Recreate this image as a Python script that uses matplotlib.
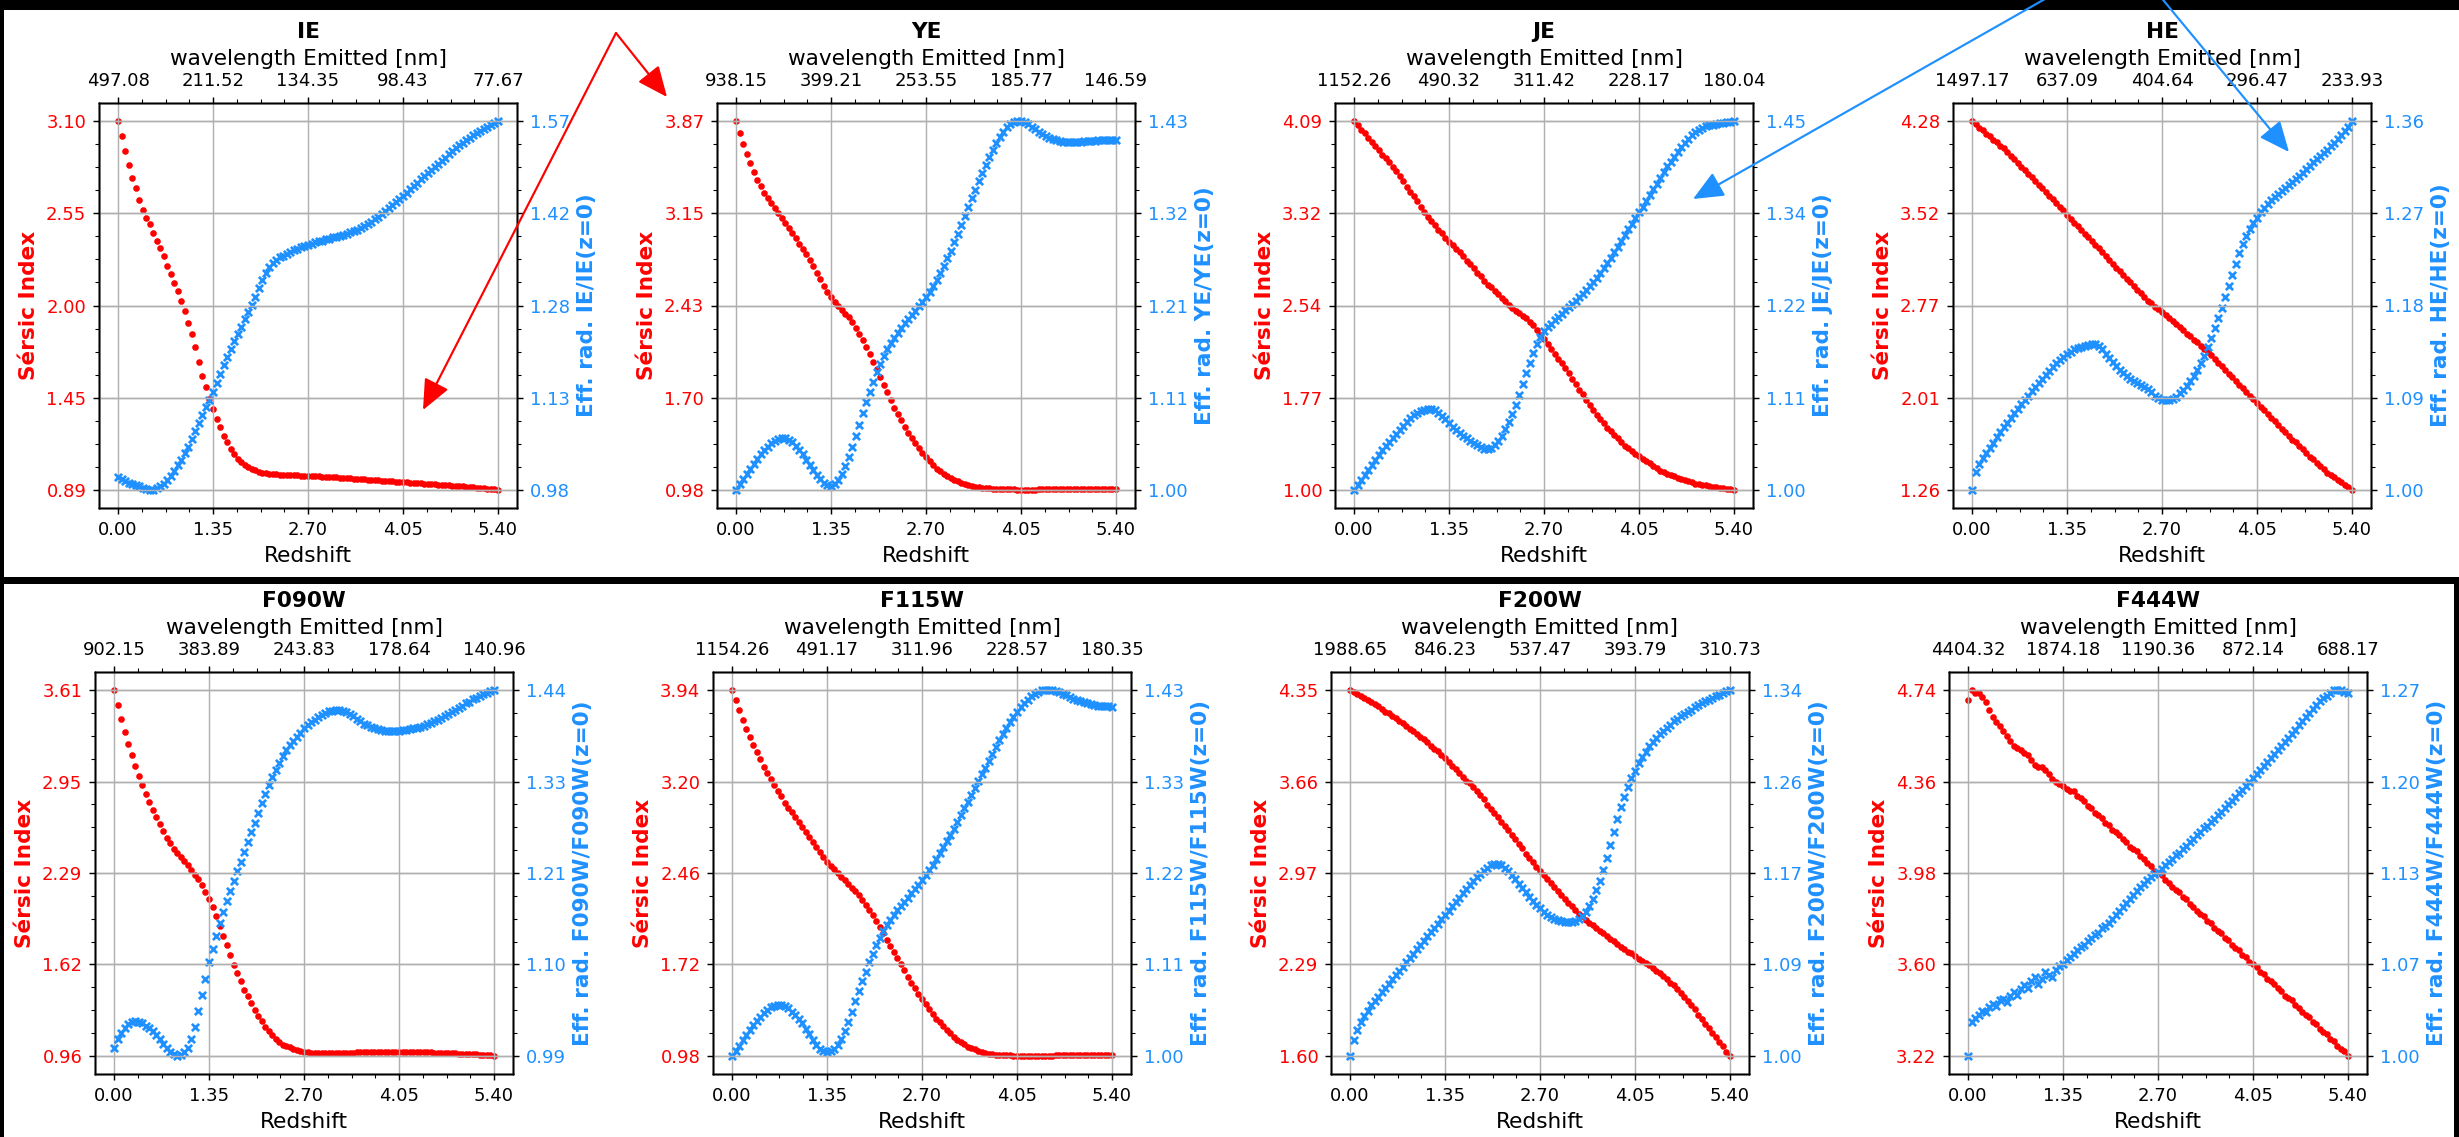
import matplotlib
matplotlib.use('Agg')
import matplotlib.pyplot as plt
import numpy as np
from matplotlib.ticker import AutoMinorLocator, FormatStrFormatter
from matplotlib.patches import Rectangle, FancyArrowPatch

W, H, DPI = 2459, 1137, 130

bands = ['IE', 'YE', 'JE', 'HE', 'F090W', 'F115W', 'F200W', 'F444W']
z = np.linspace(0, 5.4, 109)
zticks = [0.0, 1.35, 2.70, 4.05, 5.40]

# Sersic index vs redshift (step 0.05)
ie_n = [3.10, 3.01, 2.92, 2.84, 2.76, 2.70, 2.63, 2.57, 2.52, 2.48,
        2.43, 2.38, 2.34, 2.29, 2.23, 2.18, 2.13, 2.08, 2.02, 1.96,
        1.89, 1.82, 1.74, 1.65, 1.57, 1.50, 1.43, 1.37, 1.31, 1.26,
        1.21, 1.17, 1.13, 1.10, 1.07, 1.05, 1.03, 1.02, 1.01, 1.00,
        0.990, 0.987, 0.984, 0.981, 0.979, 0.977, 0.975, 0.974, 0.973, 0.972,
        0.971, 0.970, 0.969, 0.968, 0.967, 0.966, 0.965, 0.964, 0.963, 0.962,
        0.961, 0.960, 0.958, 0.957, 0.955, 0.954, 0.952, 0.951, 0.949, 0.948,
        0.946, 0.945, 0.943, 0.942, 0.940, 0.939, 0.937, 0.936, 0.934, 0.933,
        0.931, 0.930, 0.928, 0.927, 0.925, 0.924, 0.922, 0.921, 0.919, 0.918,
        0.916, 0.915, 0.913, 0.912, 0.910, 0.909, 0.907, 0.906, 0.904, 0.903,
        0.901, 0.899, 0.897, 0.895, 0.893, 0.891, 0.889, 0.887, 0.885]
ye_n = [3.87, 3.78, 3.69, 3.61, 3.54, 3.47, 3.41, 3.36, 3.31, 3.27,
        3.23, 3.19, 3.15, 3.11, 3.07, 3.03, 2.99, 2.95, 2.91, 2.87,
        2.83, 2.78, 2.73, 2.68, 2.63, 2.58, 2.53, 2.49, 2.45, 2.42,
        2.39, 2.36, 2.33, 2.29, 2.25, 2.20, 2.15, 2.10, 2.04, 1.98,
        1.92, 1.86, 1.80, 1.74, 1.68, 1.62, 1.57, 1.52, 1.47, 1.42,
        1.38, 1.34, 1.30, 1.26, 1.23, 1.20, 1.17, 1.14, 1.12, 1.10,
        1.08, 1.065, 1.05, 1.04, 1.03, 1.02, 1.012, 1.005, 1.00, 0.995,
        0.991, 0.988, 0.985, 0.983, 0.981, 0.980, 0.979, 0.978, 0.977, 0.977,
        0.976, 0.976, 0.976, 0.976, 0.976, 0.976, 0.977, 0.977, 0.977, 0.978,
        0.978, 0.978, 0.979, 0.979, 0.980, 0.980, 0.980, 0.981, 0.981, 0.981,
        0.982, 0.982, 0.982, 0.983, 0.983, 0.983, 0.983, 0.984, 0.984]
je_n = [4.09, 4.06, 4.02, 3.99, 3.95, 3.92, 3.88, 3.85, 3.81, 3.78,
        3.75, 3.71, 3.67, 3.63, 3.59, 3.54, 3.50, 3.46, 3.42, 3.37,
        3.33, 3.29, 3.25, 3.22, 3.18, 3.15, 3.11, 3.08, 3.05, 3.02,
        2.99, 2.96, 2.92, 2.89, 2.86, 2.82, 2.79, 2.75, 2.72, 2.70,
        2.67, 2.64, 2.61, 2.58, 2.55, 2.52, 2.50, 2.48, 2.46, 2.44,
        2.41, 2.38, 2.34, 2.30, 2.26, 2.22, 2.18, 2.14, 2.10, 2.06,
        2.02, 1.98, 1.93, 1.89, 1.84, 1.80, 1.75, 1.71, 1.67, 1.63,
        1.59, 1.56, 1.52, 1.49, 1.46, 1.43, 1.40, 1.37, 1.35, 1.32,
        1.30, 1.28, 1.26, 1.24, 1.22, 1.20, 1.18, 1.16, 1.15, 1.13,
        1.12, 1.11, 1.10, 1.09, 1.08, 1.07, 1.06, 1.05, 1.045, 1.04,
        1.035, 1.03, 1.025, 1.02, 1.015, 1.01, 1.007, 1.004, 1.00]
he_n = [4.28, 4.26, 4.23, 4.21, 4.18, 4.16, 4.13, 4.11, 4.08, 4.06,
        4.03, 4.00, 3.97, 3.94, 3.91, 3.88, 3.85, 3.82, 3.79, 3.76,
        3.73, 3.70, 3.67, 3.64, 3.61, 3.58, 3.55, 3.51, 3.48, 3.45,
        3.42, 3.39, 3.36, 3.33, 3.30, 3.27, 3.24, 3.21, 3.18, 3.14,
        3.11, 3.08, 3.05, 3.02, 2.99, 2.96, 2.93, 2.90, 2.87, 2.84,
        2.81, 2.79, 2.76, 2.74, 2.72, 2.69, 2.67, 2.64, 2.62, 2.59,
        2.57, 2.54, 2.52, 2.49, 2.47, 2.44, 2.41, 2.39, 2.36, 2.33,
        2.30, 2.27, 2.24, 2.21, 2.18, 2.15, 2.12, 2.09, 2.06, 2.03,
        2.00, 1.97, 1.94, 1.91, 1.88, 1.85, 1.82, 1.79, 1.76, 1.73,
        1.70, 1.67, 1.65, 1.62, 1.59, 1.56, 1.53, 1.51, 1.48, 1.45,
        1.43, 1.40, 1.38, 1.36, 1.34, 1.32, 1.30, 1.28, 1.26]
f090_n = [3.61, 3.50, 3.40, 3.31, 3.22, 3.14, 3.06, 2.99, 2.92, 2.86,
          2.80, 2.74, 2.69, 2.64, 2.59, 2.54, 2.50, 2.46, 2.43, 2.40,
          2.37, 2.34, 2.31, 2.27, 2.24, 2.20, 2.15, 2.10, 2.04, 1.97,
          1.90, 1.83, 1.76, 1.69, 1.62, 1.56, 1.50, 1.44, 1.39, 1.34,
          1.29, 1.25, 1.21, 1.17, 1.14, 1.11, 1.08, 1.06, 1.04, 1.03,
          1.02, 1.01, 1.00, 0.995, 0.990, 0.986, 0.983, 0.981, 0.980, 0.979,
          0.979, 0.979, 0.980, 0.980, 0.981, 0.981, 0.982, 0.983, 0.983, 0.984,
          0.984, 0.985, 0.985, 0.986, 0.986, 0.987, 0.987, 0.987, 0.988, 0.988,
          0.988, 0.988, 0.988, 0.988, 0.987, 0.987, 0.987, 0.986, 0.986, 0.985,
          0.984, 0.983, 0.982, 0.981, 0.980, 0.979, 0.978, 0.977, 0.976, 0.975,
          0.974, 0.972, 0.971, 0.969, 0.968, 0.966, 0.964, 0.962, 0.960]
f115_n = [3.94, 3.86, 3.78, 3.70, 3.63, 3.56, 3.50, 3.44, 3.38, 3.32,
          3.27, 3.22, 3.17, 3.12, 3.08, 3.03, 2.99, 2.95, 2.91, 2.87,
          2.83, 2.79, 2.75, 2.71, 2.67, 2.63, 2.59, 2.55, 2.52, 2.49,
          2.46, 2.43, 2.40, 2.37, 2.34, 2.31, 2.28, 2.24, 2.20, 2.16,
          2.12, 2.07, 2.02, 1.97, 1.92, 1.87, 1.82, 1.77, 1.72, 1.67,
          1.62, 1.57, 1.53, 1.48, 1.44, 1.40, 1.36, 1.32, 1.28, 1.25,
          1.22, 1.19, 1.16, 1.13, 1.11, 1.09, 1.07, 1.05, 1.04, 1.03,
          1.02, 1.01, 1.00, 0.995, 0.991, 0.988, 0.985, 0.983, 0.982, 0.981,
          0.980, 0.980, 0.979, 0.979, 0.979, 0.979, 0.979, 0.979, 0.980, 0.980,
          0.980, 0.980, 0.981, 0.981, 0.981, 0.982, 0.982, 0.982, 0.983, 0.983,
          0.983, 0.984, 0.984, 0.984, 0.985, 0.985, 0.985, 0.986, 0.986]
f200_n = [4.35, 4.34, 4.32, 4.31, 4.29, 4.28, 4.26, 4.25, 4.23, 4.21,
          4.19, 4.18, 4.16, 4.14, 4.12, 4.10, 4.08, 4.06, 4.04, 4.02,
          4.00, 3.98, 3.96, 3.93, 3.91, 3.89, 3.86, 3.84, 3.81, 3.78,
          3.76, 3.73, 3.70, 3.67, 3.65, 3.62, 3.59, 3.56, 3.53, 3.49,
          3.46, 3.43, 3.40, 3.36, 3.33, 3.30, 3.26, 3.23, 3.19, 3.16,
          3.12, 3.09, 3.06, 3.02, 2.99, 2.96, 2.93, 2.90, 2.87, 2.84,
          2.81, 2.78, 2.75, 2.73, 2.70, 2.67, 2.65, 2.62, 2.60, 2.58,
          2.56, 2.54, 2.52, 2.50, 2.48, 2.46, 2.44, 2.42, 2.40, 2.38,
          2.37, 2.35, 2.33, 2.31, 2.30, 2.28, 2.26, 2.24, 2.22, 2.20,
          2.18, 2.15, 2.13, 2.10, 2.07, 2.04, 2.01, 1.98, 1.95, 1.91,
          1.88, 1.84, 1.81, 1.77, 1.74, 1.70, 1.67, 1.63, 1.60]
f444_n = [4.70, 4.74, 4.73, 4.73, 4.71, 4.69, 4.66, 4.63, 4.61, 4.59,
          4.57, 4.55, 4.53, 4.51, 4.50, 4.49, 4.48, 4.47, 4.45, 4.43,
          4.42, 4.42, 4.41, 4.39, 4.37, 4.36, 4.35, 4.34, 4.33, 4.32,
          4.32, 4.30, 4.29, 4.28, 4.26, 4.25, 4.23, 4.22, 4.21, 4.19,
          4.18, 4.16, 4.15, 4.14, 4.12, 4.11, 4.09, 4.08, 4.07, 4.05,
          4.04, 4.02, 4.01, 3.99, 3.98, 3.97, 3.95, 3.94, 3.92, 3.91,
          3.90, 3.88, 3.87, 3.85, 3.84, 3.82, 3.81, 3.80, 3.78, 3.77,
          3.75, 3.74, 3.73, 3.71, 3.70, 3.68, 3.67, 3.66, 3.64, 3.63,
          3.61, 3.60, 3.59, 3.57, 3.56, 3.54, 3.53, 3.52, 3.50, 3.49,
          3.47, 3.46, 3.45, 3.43, 3.42, 3.40, 3.39, 3.38, 3.36, 3.35,
          3.33, 3.32, 3.31, 3.29, 3.28, 3.26, 3.25, 3.24, 3.22]

# effective radius relative to z=0
ie_r = [1.000, 0.997, 0.994, 0.991, 0.989, 0.987, 0.985, 0.983, 0.981, 0.980,
        0.980, 0.982, 0.985, 0.989, 0.995, 1.002, 1.010, 1.019, 1.028, 1.038,
        1.049, 1.061, 1.074, 1.087, 1.100, 1.112, 1.124, 1.137, 1.151, 1.165,
        1.180, 1.193, 1.206, 1.218, 1.230, 1.241, 1.253, 1.264, 1.276, 1.288,
        1.303, 1.316, 1.327, 1.336, 1.343, 1.348, 1.352, 1.355, 1.358, 1.361,
        1.364, 1.366, 1.368, 1.370, 1.372, 1.374, 1.376, 1.378, 1.379, 1.381,
        1.382, 1.384, 1.385, 1.387, 1.388, 1.390, 1.392, 1.394, 1.396, 1.399,
        1.402, 1.405, 1.409, 1.413, 1.417, 1.421, 1.426, 1.431, 1.436, 1.441,
        1.446, 1.451, 1.456, 1.461, 1.466, 1.472, 1.477, 1.482, 1.487, 1.492,
        1.497, 1.502, 1.507, 1.512, 1.517, 1.522, 1.527, 1.532, 1.536, 1.540,
        1.544, 1.548, 1.552, 1.555, 1.558, 1.561, 1.564, 1.567, 1.570]
ye_r = [1.000, 1.006, 1.012, 1.018, 1.024, 1.030, 1.036, 1.041, 1.046, 1.050,
        1.054, 1.057, 1.059, 1.060, 1.060, 1.058, 1.055, 1.051, 1.046, 1.041,
        1.035, 1.029, 1.023, 1.017, 1.012, 1.008, 1.005, 1.004, 1.006, 1.011,
        1.018, 1.027, 1.038, 1.050, 1.063, 1.076, 1.089, 1.102, 1.114, 1.126,
        1.137, 1.147, 1.156, 1.164, 1.171, 1.177, 1.183, 1.189, 1.194, 1.199,
        1.204, 1.209, 1.214, 1.219, 1.225, 1.231, 1.238, 1.245, 1.253, 1.261,
        1.270, 1.279, 1.289, 1.299, 1.309, 1.319, 1.330, 1.340, 1.350, 1.360,
        1.370, 1.379, 1.388, 1.397, 1.405, 1.412, 1.418, 1.423, 1.427, 1.429,
        1.430, 1.430, 1.429, 1.427, 1.424, 1.421, 1.418, 1.415, 1.413, 1.411,
        1.409, 1.408, 1.407, 1.406, 1.406, 1.406, 1.406, 1.406, 1.406, 1.407,
        1.407, 1.407, 1.407, 1.408, 1.408, 1.408, 1.408, 1.408, 1.408]
je_r = [1.000, 1.006, 1.012, 1.018, 1.024, 1.030, 1.036, 1.042, 1.048, 1.053,
        1.058, 1.063, 1.068, 1.073, 1.078, 1.083, 1.087, 1.091, 1.094, 1.096,
        1.097, 1.098, 1.098, 1.097, 1.094, 1.090, 1.086, 1.081, 1.077, 1.073,
        1.069, 1.066, 1.063, 1.060, 1.057, 1.054, 1.052, 1.050, 1.050, 1.051,
        1.054, 1.059, 1.066, 1.074, 1.083, 1.093, 1.104, 1.116, 1.129, 1.142,
        1.155, 1.167, 1.178, 1.187, 1.194, 1.199, 1.203, 1.207, 1.211, 1.215,
        1.219, 1.223, 1.227, 1.231, 1.235, 1.239, 1.244, 1.249, 1.254, 1.259,
        1.265, 1.271, 1.277, 1.283, 1.290, 1.297, 1.304, 1.311, 1.318, 1.325,
        1.332, 1.339, 1.346, 1.353, 1.360, 1.367, 1.374, 1.381, 1.388, 1.395,
        1.401, 1.407, 1.413, 1.419, 1.424, 1.429, 1.433, 1.437, 1.440, 1.442,
        1.444, 1.445, 1.446, 1.447, 1.448, 1.448, 1.449, 1.449, 1.450]
he_r = [1.000, 1.017, 1.025, 1.031, 1.036, 1.041, 1.046, 1.051, 1.056, 1.061,
        1.065, 1.070, 1.075, 1.079, 1.084, 1.088, 1.092, 1.096, 1.100, 1.104,
        1.108, 1.112, 1.116, 1.120, 1.124, 1.127, 1.130, 1.133, 1.135, 1.137,
        1.138, 1.139, 1.140, 1.141, 1.142, 1.142, 1.140, 1.137, 1.133, 1.129,
        1.125, 1.121, 1.117, 1.114, 1.111, 1.108, 1.106, 1.104, 1.102, 1.100,
        1.098, 1.095, 1.092, 1.090, 1.088, 1.088, 1.088, 1.089, 1.091, 1.094,
        1.097, 1.101, 1.106, 1.111, 1.117, 1.124, 1.131, 1.139, 1.148, 1.158,
        1.168, 1.178, 1.188, 1.199, 1.210, 1.221, 1.231, 1.240, 1.248, 1.255,
        1.261, 1.266, 1.271, 1.275, 1.279, 1.283, 1.286, 1.289, 1.292, 1.295,
        1.298, 1.301, 1.304, 1.307, 1.310, 1.313, 1.316, 1.320, 1.323, 1.326,
        1.329, 1.332, 1.336, 1.339, 1.343, 1.347, 1.351, 1.355, 1.360]
f090_r = [1.000, 1.010, 1.018, 1.024, 1.029, 1.032, 1.033, 1.032, 1.030, 1.027,
          1.024, 1.020, 1.016, 1.011, 1.005, 1.000, 0.995, 0.992, 0.990, 0.991,
          0.994, 1.000, 1.010, 1.025, 1.045, 1.065, 1.085, 1.105, 1.122, 1.138,
          1.153, 1.167, 1.180, 1.193, 1.205, 1.217, 1.229, 1.241, 1.253, 1.265,
          1.277, 1.289, 1.301, 1.312, 1.323, 1.333, 1.342, 1.351, 1.359, 1.366,
          1.372, 1.378, 1.383, 1.388, 1.393, 1.397, 1.401, 1.404, 1.407, 1.410,
          1.412, 1.414, 1.415, 1.416, 1.416, 1.415, 1.413, 1.411, 1.408, 1.405,
          1.402, 1.399, 1.397, 1.395, 1.393, 1.392, 1.391, 1.390, 1.390, 1.390,
          1.390, 1.390, 1.391, 1.391, 1.392, 1.393, 1.394, 1.395, 1.396, 1.398,
          1.400, 1.402, 1.404, 1.406, 1.408, 1.411, 1.413, 1.416, 1.418, 1.421,
          1.424, 1.426, 1.429, 1.431, 1.433, 1.435, 1.437, 1.439, 1.440]
f115_r = [1.000, 1.006, 1.012, 1.018, 1.024, 1.030, 1.036, 1.041, 1.046, 1.050,
          1.054, 1.057, 1.059, 1.060, 1.060, 1.059, 1.056, 1.052, 1.048, 1.043,
          1.038, 1.032, 1.026, 1.019, 1.013, 1.008, 1.005, 1.004, 1.005, 1.008,
          1.013, 1.020, 1.029, 1.040, 1.052, 1.064, 1.076, 1.088, 1.099, 1.110,
          1.120, 1.130, 1.139, 1.147, 1.154, 1.160, 1.166, 1.171, 1.176, 1.181,
          1.186, 1.191, 1.196, 1.201, 1.207, 1.213, 1.219, 1.225, 1.232, 1.239,
          1.246, 1.253, 1.260, 1.267, 1.275, 1.283, 1.291, 1.299, 1.307, 1.315,
          1.323, 1.331, 1.339, 1.347, 1.355, 1.363, 1.371, 1.379, 1.386, 1.393,
          1.399, 1.405, 1.410, 1.415, 1.419, 1.423, 1.426, 1.428, 1.430, 1.430,
          1.430, 1.430, 1.429, 1.428, 1.426, 1.424, 1.422, 1.420, 1.419, 1.417,
          1.416, 1.415, 1.414, 1.413, 1.412, 1.412, 1.411, 1.411, 1.410]
f200_r = [1.000, 1.015, 1.024, 1.031, 1.037, 1.042, 1.047, 1.051, 1.055, 1.059,
          1.063, 1.067, 1.071, 1.075, 1.079, 1.083, 1.087, 1.091, 1.095, 1.099,
          1.103, 1.107, 1.111, 1.115, 1.119, 1.123, 1.127, 1.131, 1.135, 1.139,
          1.143, 1.147, 1.151, 1.155, 1.159, 1.163, 1.166, 1.169, 1.172, 1.175,
          1.177, 1.178, 1.178, 1.177, 1.175, 1.172, 1.168, 1.164, 1.160, 1.156,
          1.152, 1.148, 1.144, 1.140, 1.137, 1.134, 1.131, 1.129, 1.127, 1.126,
          1.125, 1.124, 1.124, 1.124, 1.125, 1.127, 1.130, 1.134, 1.139, 1.146,
          1.154, 1.163, 1.173, 1.184, 1.196, 1.208, 1.220, 1.231, 1.241, 1.250,
          1.258, 1.265, 1.272, 1.278, 1.283, 1.288, 1.292, 1.296, 1.299, 1.302,
          1.305, 1.308, 1.311, 1.313, 1.316, 1.318, 1.320, 1.322, 1.324, 1.326,
          1.328, 1.330, 1.331, 1.333, 1.335, 1.336, 1.337, 1.339, 1.340]
f444_r = [1.000, 1.025, 1.028, 1.030, 1.033, 1.032, 1.036, 1.038, 1.037, 1.041,
          1.042, 1.040, 1.044, 1.047, 1.045, 1.049, 1.052, 1.050, 1.055, 1.058,
          1.053, 1.057, 1.062, 1.060, 1.058, 1.063, 1.066, 1.068, 1.071, 1.073,
          1.075, 1.078, 1.080, 1.082, 1.085, 1.087, 1.089, 1.091, 1.094, 1.096,
          1.098, 1.101, 1.104, 1.107, 1.110, 1.113, 1.116, 1.119, 1.122, 1.125,
          1.127, 1.130, 1.132, 1.134, 1.136, 1.138, 1.141, 1.143, 1.145, 1.148,
          1.150, 1.153, 1.155, 1.158, 1.160, 1.163, 1.165, 1.168, 1.170, 1.173,
          1.175, 1.178, 1.180, 1.183, 1.186, 1.188, 1.191, 1.194, 1.196, 1.199,
          1.202, 1.205, 1.208, 1.211, 1.214, 1.217, 1.220, 1.223, 1.226, 1.229,
          1.232, 1.235, 1.238, 1.241, 1.244, 1.247, 1.250, 1.253, 1.256, 1.259,
          1.262, 1.264, 1.266, 1.268, 1.270, 1.270, 1.270, 1.269, 1.268]

sersic = [ie_n, ye_n, je_n, he_n, f090_n, f115_n, f200_n, f444_n]
reff = [ie_r, ye_r, je_r, he_r, f090_r, f115_r, f200_r, f444_r]

sersic_ticks = [['0.89', '1.45', '2.00', '2.55', '3.10'],
                ['0.98', '1.70', '2.43', '3.15', '3.87'],
                ['1.00', '1.77', '2.54', '3.32', '4.09'],
                ['1.26', '2.01', '2.77', '3.52', '4.28'],
                ['0.96', '1.62', '2.29', '2.95', '3.61'],
                ['0.98', '1.72', '2.46', '3.20', '3.94'],
                ['1.60', '2.29', '2.97', '3.66', '4.35'],
                ['3.22', '3.60', '3.98', '4.36', '4.74']]
reff_ticks = [['0.98', '1.13', '1.28', '1.42', '1.57'],
              ['1.00', '1.11', '1.21', '1.32', '1.43'],
              ['1.00', '1.11', '1.22', '1.34', '1.45'],
              ['1.00', '1.09', '1.18', '1.27', '1.36'],
              ['0.99', '1.10', '1.21', '1.33', '1.44'],
              ['1.00', '1.11', '1.22', '1.33', '1.43'],
              ['1.00', '1.09', '1.17', '1.26', '1.34'],
              ['1.00', '1.07', '1.13', '1.20', '1.27']]
wave_ticks = [['497.08', '211.52', '134.35', '98.43', '77.67'],
              ['938.15', '399.21', '253.55', '185.77', '146.59'],
              ['1152.26', '490.32', '311.42', '228.17', '180.04'],
              ['1497.17', '637.09', '404.64', '296.47', '233.93'],
              ['902.15', '383.89', '243.83', '178.64', '140.96'],
              ['1154.26', '491.17', '311.96', '228.57', '180.35'],
              ['1988.65', '846.23', '537.47', '393.79', '310.73'],
              ['4404.32', '1874.18', '1190.36', '872.14', '688.17']]

RED = 'red'
BLUE = 'dodgerblue'


def fbox(x0, y0, w, h):
    # pixel box (top-left origin) -> figure fraction
    return [x0 / W, 1 - (y0 + h) / H, w / W, h / H]


fig = plt.figure(figsize=(W / DPI, H / DPI), dpi=DPI, facecolor='black')

# white panels of the two rows
for x0, y0, x1, y1 in [(4, 10, W, 577), (4, 584, 2454, H)]:
    fig.add_artist(Rectangle((x0 / W, 1 - y1 / H), (x1 - x0) / W, (y1 - y0) / H,
                             transform=fig.transFigure, facecolor='white',
                             edgecolor='none', zorder=-10))

for i, band in enumerate(bands):
    row, col = divmod(i, 4)
    if row == 0:
        ax = fig.add_axes(fbox(99 + 618 * col, 103, 418, 405))
    else:
        ax = fig.add_axes(fbox(95 + 618 * col, 672, 418, 402))
    n = np.array(sersic[i])
    r = np.array(reff[i])

    ax.scatter(z, n, s=7, c=RED, marker='o')
    ax.set_xticks(zticks)
    ax.xaxis.set_major_formatter(FormatStrFormatter('%.2f'))
    ax.set_yticks(np.linspace(n.min(), n.max(), 5))
    ax.set_yticklabels(sersic_ticks[i])
    ax.tick_params(axis='y', labelcolor=RED)
    ax.set_ylabel('Sérsic Index', color=RED, fontweight='bold', fontsize=12)
    ax.set_xlabel('Redshift', fontsize=12)
    ax.xaxis.set_minor_locator(AutoMinorLocator(4))
    ax.yaxis.set_minor_locator(AutoMinorLocator(4))
    ax.grid(True)

    ax2 = ax.twinx()
    ax2.scatter(z, r, s=16, c=BLUE, marker='x', linewidths=1.5)
    ax2.set_yticks(np.linspace(r.min(), r.max(), 5))
    ax2.set_yticklabels(reff_ticks[i])
    ax2.tick_params(axis='y', labelcolor=BLUE)
    ax2.yaxis.set_minor_locator(AutoMinorLocator(4))
    ax2.set_ylabel('Eff. rad. %s/%s(z=0)' % (band, band), color=BLUE,
                   fontweight='bold', fontsize=12)
    ax2.grid(True)

    ax3 = ax.twiny()
    ax3.set_xlim(ax.get_xlim())
    ax3.set_xticks(zticks)
    ax3.set_xticklabels(wave_ticks[i])
    ax3.xaxis.set_minor_locator(AutoMinorLocator(4))
    ax3.set_xlabel('wavelength Emitted [nm]', fontsize=12)
    ax3.set_title(band, fontweight='bold', fontsize=12)

# annotation arrows drawn over the figure
arrows = [((616, 33), (423, 410), RED), ((616, 33), (667, 97), RED),
          ((2052, -5), (1693, 199), BLUE), ((2159, -5), (2289, 152), BLUE)]
for (xa, ya), (xb, yb), colr in arrows:
    fig.add_artist(FancyArrowPatch((xa / W, 1 - ya / H), (xb / W, 1 - yb / H),
                                   transform=fig.transFigure,
                                   arrowstyle='-|>,head_length=0.8,head_width=0.35',
                                   mutation_scale=18, color=colr, lw=1.2,
                                   shrinkA=0, shrinkB=0, zorder=5))

fig.savefig('out.png', dpi=DPI, facecolor='black')
